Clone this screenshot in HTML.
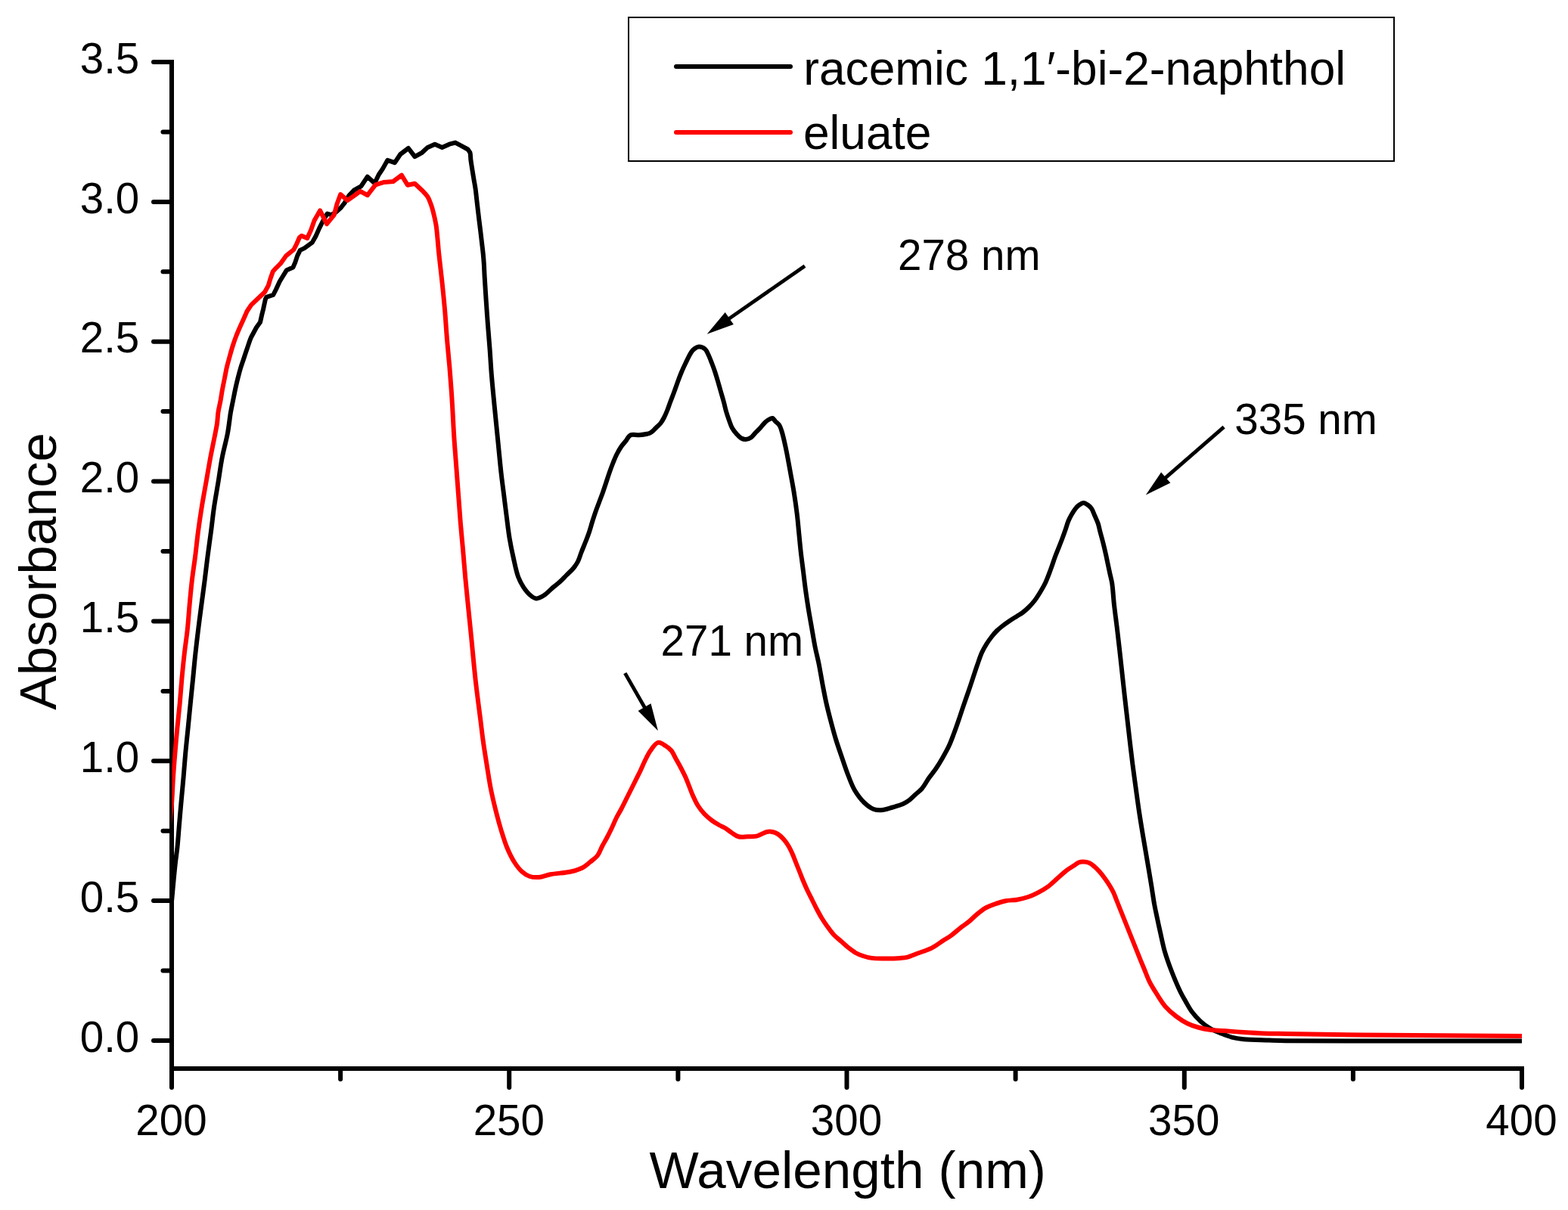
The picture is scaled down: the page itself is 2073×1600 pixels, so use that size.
<!DOCTYPE html>
<html><head><meta charset="utf-8"><title>UV-Vis absorbance spectra</title>
<style>
html,body{margin:0;padding:0;background:#fff;}
body{width:2073px;height:1600px;overflow:hidden;}
svg{display:block;}
text{font-family:"Liberation Sans",Arial,sans-serif;fill:#000;}
</style></head><body>
<svg width="2073" height="1600" viewBox="0 0 2073 1600">
<rect width="2073" height="1600" fill="#fff"/>
<defs><clipPath id="pc"><rect x="227.4" y="0" width="1785.6" height="1600"/></clipPath></defs>
<line x1="227" y1="79" x2="227" y2="1416" stroke="#000" stroke-width="6"/>
<line x1="224" y1="1413" x2="2015" y2="1413" stroke="#000" stroke-width="6"/>
<line x1="203" y1="82.0" x2="227" y2="82.0" stroke="#000" stroke-width="6" stroke-linecap="round"/>
<line x1="203" y1="266.9" x2="227" y2="266.9" stroke="#000" stroke-width="6" stroke-linecap="round"/>
<line x1="203" y1="451.7" x2="227" y2="451.7" stroke="#000" stroke-width="6" stroke-linecap="round"/>
<line x1="203" y1="636.6" x2="227" y2="636.6" stroke="#000" stroke-width="6" stroke-linecap="round"/>
<line x1="203" y1="821.4" x2="227" y2="821.4" stroke="#000" stroke-width="6" stroke-linecap="round"/>
<line x1="203" y1="1006.3" x2="227" y2="1006.3" stroke="#000" stroke-width="6" stroke-linecap="round"/>
<line x1="203" y1="1191.1" x2="227" y2="1191.1" stroke="#000" stroke-width="6" stroke-linecap="round"/>
<line x1="203" y1="1376.0" x2="227" y2="1376.0" stroke="#000" stroke-width="6" stroke-linecap="round"/>
<line x1="215.5" y1="174.4" x2="227" y2="174.4" stroke="#000" stroke-width="6" stroke-linecap="round"/>
<line x1="215.5" y1="359.3" x2="227" y2="359.3" stroke="#000" stroke-width="6" stroke-linecap="round"/>
<line x1="215.5" y1="544.1" x2="227" y2="544.1" stroke="#000" stroke-width="6" stroke-linecap="round"/>
<line x1="215.5" y1="729.0" x2="227" y2="729.0" stroke="#000" stroke-width="6" stroke-linecap="round"/>
<line x1="215.5" y1="913.9" x2="227" y2="913.9" stroke="#000" stroke-width="6" stroke-linecap="round"/>
<line x1="215.5" y1="1098.7" x2="227" y2="1098.7" stroke="#000" stroke-width="6" stroke-linecap="round"/>
<line x1="215.5" y1="1283.6" x2="227" y2="1283.6" stroke="#000" stroke-width="6" stroke-linecap="round"/>
<line x1="227.0" y1="1413" x2="227.0" y2="1438" stroke="#000" stroke-width="6" stroke-linecap="round"/>
<line x1="673.2" y1="1413" x2="673.2" y2="1438" stroke="#000" stroke-width="6" stroke-linecap="round"/>
<line x1="1119.5" y1="1413" x2="1119.5" y2="1438" stroke="#000" stroke-width="6" stroke-linecap="round"/>
<line x1="1565.8" y1="1413" x2="1565.8" y2="1438" stroke="#000" stroke-width="6" stroke-linecap="round"/>
<line x1="2012.0" y1="1413" x2="2012.0" y2="1438" stroke="#000" stroke-width="6" stroke-linecap="round"/>
<line x1="450.1" y1="1413" x2="450.1" y2="1427" stroke="#000" stroke-width="6" stroke-linecap="round"/>
<line x1="896.4" y1="1413" x2="896.4" y2="1427" stroke="#000" stroke-width="6" stroke-linecap="round"/>
<line x1="1342.6" y1="1413" x2="1342.6" y2="1427" stroke="#000" stroke-width="6" stroke-linecap="round"/>
<line x1="1788.9" y1="1413" x2="1788.9" y2="1427" stroke="#000" stroke-width="6" stroke-linecap="round"/>
<path clip-path="url(#pc)" d="M224.00,1220.00 C225.00,1210.67 226.13,1200.77 227.00,1192.00 C227.77,1184.23 228.25,1177.90 229.00,1170.00 C229.88,1160.77 230.99,1148.98 232.00,1140.00 C232.83,1132.65 233.73,1127.35 234.50,1120.00 C235.44,1111.02 236.15,1100.00 237.00,1090.00 C237.85,1080.00 238.69,1070.19 239.60,1060.00 C240.55,1049.41 241.65,1038.42 242.60,1027.60 C243.55,1016.75 244.30,1005.85 245.30,995.00 C246.30,984.18 247.52,973.42 248.60,962.60 C249.68,951.75 250.72,940.85 251.80,930.00 C252.88,919.18 254.02,908.42 255.10,897.60 C256.18,886.75 257.13,875.85 258.30,865.00 C259.47,854.15 260.77,843.33 262.10,832.50 C263.43,821.66 264.88,810.82 266.30,800.00 C267.72,789.19 269.22,778.42 270.60,767.60 C271.99,756.75 273.20,745.85 274.60,735.00 C276.00,724.18 277.58,713.42 279.00,702.60 C280.42,691.75 281.52,680.83 283.10,670.00 C284.68,659.17 286.74,648.42 288.50,637.60 C290.27,626.75 291.62,615.83 293.70,605.00 C295.79,594.13 299.08,582.92 301.00,572.50 C302.76,562.99 303.66,552.77 305.00,545.00 C306.00,539.23 307.00,535.00 308.00,530.00 C309.00,525.00 309.92,519.99 311.00,515.00 C312.08,509.99 313.29,504.81 314.50,500.00 C315.63,495.50 316.73,491.23 318.00,487.00 C319.23,482.90 320.59,479.22 322.00,475.00 C323.57,470.28 325.31,464.90 327.00,460.00 C328.64,455.24 330.00,450.51 332.00,446.00 L339.00,433.00 L344.00,426.00 L346.50,415.00 L348.10,408.70 L350.90,395.60 L352.30,392.80 L361.20,390.00 L365.00,382.50 L369.70,372.20 L374.30,364.70 L379.00,357.20 L387.50,353.40 L390.30,346.90 L393.10,338.40 L396.80,330.90 L402.50,328.10 L412.80,320.60 L417.50,312.20 L422.10,301.90 L426.80,292.50 L432.70,282.50 L438.00,284.10 L444.40,280.40 L450.80,274.50 L456.10,267.60 L461.40,258.60 L467.80,251.70 L477.30,246.40 L485.80,233.70 L495.30,242.20 L500.70,231.00 L506.00,223.10 L512.30,211.90 L521.90,215.10 L529.30,204.00 L539.90,196.00 L548.40,207.10 L558.00,201.80 L565.40,194.90 L574.90,190.70 L584.50,194.90 L594.00,190.70 L602.00,188.60 L610.00,192.80 L618.50,197.50 L621.30,201.40 C622.25,203.89 621.95,208.04 622.40,211.50 C622.88,215.17 623.48,218.87 624.10,222.80 C624.77,227.10 625.55,231.80 626.30,236.30 C627.05,240.80 627.94,245.20 628.60,249.80 C629.28,254.59 629.73,259.61 630.30,264.50 C630.87,269.38 631.44,274.33 632.00,279.10 C632.54,283.69 633.05,288.10 633.60,292.60 C634.15,297.10 634.74,301.50 635.30,306.10 C635.88,310.89 636.43,315.91 637.00,320.80 C637.57,325.68 638.23,330.62 638.70,335.40 C639.15,339.98 639.49,344.20 639.80,348.90 C640.14,354.03 640.24,358.70 640.60,365.00 C641.11,373.97 641.97,386.75 642.70,397.60 C643.43,408.42 644.18,419.19 645.00,430.00 C645.82,440.85 646.80,451.75 647.60,462.60 C648.40,473.41 648.94,484.19 649.80,495.00 C650.67,505.86 651.86,517.75 652.80,527.60 C653.58,535.77 654.17,541.58 655.00,550.00 C656.08,560.90 657.50,575.00 658.75,587.50 C660.00,600.00 661.17,613.20 662.50,625.00 C663.69,635.57 665.00,645.00 666.25,655.00 C667.50,665.00 668.72,675.22 670.00,685.00 C671.22,694.37 672.25,703.57 673.75,712.50 C675.19,721.05 676.88,729.19 678.75,737.50 C680.63,745.86 682.37,755.48 685.00,762.50 C687.06,768.00 689.35,772.36 692.20,776.60 C694.92,780.65 698.41,784.96 701.60,787.50 C704.03,789.44 706.33,791.26 709.00,791.40 C711.99,791.56 715.47,789.51 718.75,787.50 C722.87,784.98 727.43,779.82 731.25,776.60 C734.40,773.95 737.13,772.09 740.00,769.50 C743.05,766.75 746.00,763.50 749.00,760.50 C752.00,757.50 755.43,754.63 758.00,751.50 C760.37,748.61 762.30,745.82 764.00,742.50 C765.85,738.88 766.87,734.71 768.50,730.50 C770.33,725.77 772.67,720.23 774.50,715.50 C776.13,711.29 777.57,707.75 779.00,703.50 C780.58,698.80 781.96,693.36 783.50,688.50 C784.97,683.87 786.46,679.35 788.00,675.00 C789.46,670.87 791.00,667.00 792.50,663.00 C794.00,659.00 795.54,655.13 797.00,651.00 C798.54,646.65 800.00,642.00 801.50,637.50 C803.00,633.00 804.46,628.35 806.00,624.00 C807.46,619.87 808.95,615.85 810.50,612.00 C811.96,608.37 813.28,604.95 815.00,601.50 C816.77,597.95 818.87,594.13 821.00,591.00 C822.90,588.21 824.93,586.05 827.00,583.50 C829.18,580.81 830.81,576.64 833.75,575.25 C836.77,573.82 841.32,575.51 845.00,575.25 C848.57,575.00 852.75,574.40 855.50,573.75 C857.34,573.32 858.41,573.17 860.00,572.25 C862.31,570.90 865.17,567.71 867.50,565.50 C869.64,563.47 871.76,561.73 873.50,559.50 C875.27,557.24 876.62,554.66 878.00,552.00 C879.47,549.18 880.72,546.17 882.00,543.00 C883.40,539.54 884.57,535.81 886.00,532.00 C887.56,527.84 889.36,523.42 891.00,519.00 C892.69,514.43 894.31,509.57 896.00,505.00 C897.64,500.58 899.22,496.22 901.00,492.00 C902.73,487.89 904.63,483.90 906.50,480.00 C908.30,476.24 910.22,472.07 912.00,469.00 C913.36,466.65 914.18,464.68 916.00,463.00 C918.05,461.10 921.28,458.71 924.00,458.50 C926.62,458.30 929.98,459.84 932.00,461.50 C933.91,463.07 934.69,465.44 936.00,468.00 C937.71,471.34 939.47,476.07 941.00,480.00 C942.45,483.73 943.71,487.16 945.00,491.00 C946.39,495.14 947.69,499.58 949.00,504.00 C950.36,508.57 951.67,513.33 953.00,518.00 C954.33,522.67 955.80,527.50 957.00,532.00 C958.11,536.14 958.84,540.02 960.00,544.00 C961.17,548.02 962.61,552.20 964.00,556.00 C965.28,559.50 966.29,562.95 968.00,566.00 C969.65,568.93 971.89,571.67 974.00,574.00 C975.91,576.10 977.84,578.34 980.00,579.50 C981.88,580.51 983.94,581.10 986.00,581.00 C988.26,580.89 990.91,579.88 993.00,578.50 C995.28,576.99 996.98,574.10 999.00,572.00 C1000.98,569.94 1002.96,568.18 1005.00,566.00 C1007.28,563.56 1009.61,560.09 1012.00,558.00 C1013.96,556.28 1016.21,554.83 1018.00,554.00 C1019.27,553.41 1020.42,552.68 1021.50,553.00 C1022.80,553.38 1023.68,555.58 1025.00,557.00 C1026.60,558.71 1029.05,560.23 1030.50,562.50 C1032.16,565.09 1032.96,568.62 1034.00,572.00 C1035.15,575.74 1036.03,579.84 1037.00,584.00 C1038.04,588.48 1038.91,592.57 1040.00,598.00 C1041.50,605.53 1043.39,616.17 1045.00,625.00 C1046.55,633.49 1048.10,641.27 1049.50,650.00 C1051.03,659.53 1052.60,670.44 1053.75,680.00 C1054.80,688.70 1055.42,696.67 1056.25,705.00 C1057.08,713.33 1057.81,721.67 1058.75,730.00 C1059.69,738.34 1060.86,746.67 1061.90,755.00 C1062.94,763.33 1063.86,771.67 1065.00,780.00 C1066.14,788.34 1067.40,796.67 1068.75,805.00 C1070.10,813.34 1071.64,821.67 1073.10,830.00 C1074.56,838.33 1075.89,846.90 1077.50,855.00 C1079.04,862.72 1080.91,869.61 1082.50,877.50 C1084.26,886.19 1085.79,896.06 1087.50,905.00 C1089.13,913.54 1090.63,921.69 1092.50,930.00 C1094.38,938.36 1096.61,946.90 1098.75,955.00 C1100.78,962.71 1102.72,970.03 1105.00,977.50 C1107.30,985.03 1109.87,992.31 1112.50,1000.00 C1115.28,1008.12 1118.18,1017.19 1121.25,1025.00 C1124.04,1032.09 1126.38,1038.88 1130.00,1045.00 C1133.51,1050.93 1137.98,1056.93 1142.50,1061.25 C1146.40,1064.98 1150.87,1068.41 1155.00,1070.00 C1158.36,1071.29 1161.35,1071.47 1165.00,1071.25 C1169.52,1070.98 1175.12,1068.90 1180.00,1067.50 C1184.75,1066.14 1189.89,1064.85 1193.90,1063.00 C1197.27,1061.45 1199.93,1059.70 1202.70,1057.60 C1205.57,1055.42 1208.10,1052.59 1210.80,1050.10 C1213.50,1047.62 1216.29,1045.75 1218.90,1042.70 C1222.11,1038.95 1224.95,1033.30 1228.10,1028.80 C1231.18,1024.40 1234.61,1020.41 1237.60,1016.00 C1240.61,1011.55 1243.34,1007.01 1246.10,1002.20 C1249.01,997.13 1252.10,991.68 1254.60,986.30 C1257.05,981.04 1258.92,975.81 1261.00,970.30 C1263.19,964.50 1265.30,958.41 1267.40,952.30 C1269.57,946.01 1271.65,939.39 1273.80,933.10 C1275.89,927.00 1278.01,921.20 1280.10,915.10 C1282.25,908.81 1284.47,902.00 1286.50,895.90 C1288.35,890.35 1289.92,885.38 1291.80,880.00 C1293.75,874.41 1295.75,867.98 1298.00,863.00 C1299.87,858.86 1301.82,855.52 1304.00,852.00 C1306.15,848.52 1308.58,845.09 1311.00,842.00 C1313.26,839.12 1315.58,836.40 1318.00,834.00 C1320.26,831.77 1322.48,829.99 1325.00,828.00 C1327.77,825.82 1330.82,823.66 1334.00,821.50 C1337.45,819.16 1341.75,816.58 1345.00,814.50 C1347.60,812.84 1349.65,811.76 1352.00,810.00 C1354.65,808.01 1357.41,805.57 1360.00,803.00 C1362.76,800.27 1365.62,797.08 1368.00,794.00 C1370.26,791.08 1371.94,788.36 1374.00,785.00 C1376.49,780.95 1379.38,776.23 1381.75,771.30 C1384.34,765.90 1386.55,759.66 1388.75,753.80 C1390.93,747.99 1392.88,741.69 1394.90,736.30 C1396.66,731.60 1398.45,727.42 1400.10,723.20 C1401.64,719.27 1403.06,715.68 1404.50,711.80 C1405.99,707.79 1407.54,703.45 1408.90,699.50 C1410.15,695.87 1411.03,692.29 1412.40,689.00 C1413.69,685.91 1415.19,683.09 1416.80,680.30 C1418.39,677.56 1420.23,674.58 1422.00,672.40 C1423.44,670.63 1424.70,669.22 1426.40,668.00 C1428.18,666.73 1430.47,665.00 1432.50,665.00 C1434.53,665.00 1436.82,666.73 1438.60,668.00 C1440.30,669.22 1441.68,670.50 1443.00,672.40 C1444.72,674.87 1445.96,678.72 1447.40,682.00 C1448.90,685.41 1450.63,688.95 1451.80,692.50 C1452.94,695.96 1453.51,699.58 1454.40,703.00 C1455.25,706.28 1456.14,709.32 1457.00,712.60 C1457.90,716.04 1458.83,719.61 1459.70,723.20 C1460.60,726.90 1461.45,730.65 1462.30,734.50 C1463.18,738.51 1464.03,742.71 1464.90,746.80 C1465.76,750.88 1466.62,754.93 1467.50,759.00 C1468.39,763.09 1469.41,766.32 1470.20,771.30 C1471.39,778.84 1471.92,790.33 1473.00,800.00 C1474.10,809.90 1475.55,820.00 1476.75,830.00 C1477.95,840.00 1479.07,850.00 1480.20,860.00 C1481.32,870.00 1482.40,880.00 1483.50,890.00 C1484.60,900.00 1485.68,910.00 1486.80,920.00 C1487.93,930.00 1489.10,940.00 1490.25,950.00 C1491.40,960.00 1492.53,970.00 1493.70,980.00 C1494.88,990.00 1495.98,999.69 1497.30,1010.00 C1498.70,1020.98 1500.37,1032.93 1501.90,1044.00 C1503.36,1054.57 1504.69,1064.67 1506.25,1075.00 C1507.81,1085.34 1509.53,1095.63 1511.25,1106.00 C1512.98,1116.46 1514.82,1127.00 1516.60,1137.50 C1518.37,1148.00 1520.27,1159.00 1521.90,1169.00 C1523.38,1178.08 1524.79,1188.14 1526.00,1195.00 C1526.80,1199.52 1527.27,1201.69 1528.20,1206.20 C1529.63,1213.13 1531.93,1223.75 1533.90,1232.50 C1535.87,1241.25 1537.48,1250.03 1540.00,1258.70 C1542.56,1267.53 1545.82,1276.30 1549.20,1285.00 C1552.62,1293.80 1556.92,1304.02 1560.40,1311.20 C1562.93,1316.42 1565.10,1320.04 1567.60,1324.40 C1570.13,1328.80 1572.37,1333.28 1575.50,1337.50 C1578.86,1342.03 1583.12,1346.80 1587.30,1350.60 C1591.21,1354.16 1595.26,1357.18 1599.70,1359.80 C1604.21,1362.46 1609.33,1364.42 1614.20,1366.40 C1618.97,1368.34 1623.63,1370.30 1628.60,1371.60 C1633.69,1372.92 1638.16,1373.57 1644.40,1374.20 C1653.34,1375.11 1667.26,1375.15 1677.20,1375.50 C1685.49,1375.79 1689.71,1376.02 1700.00,1376.20 C1721.54,1376.57 1760.48,1376.53 1800.00,1376.60 C1857.55,1376.70 1941.33,1376.53 2012.00,1376.50" fill="none" stroke="#000" stroke-width="6.0" stroke-linejoin="round"/>
<path clip-path="url(#pc)" d="M221.00,1120.00 C222.33,1107.33 223.88,1092.95 225.00,1082.00 C225.85,1073.67 226.57,1068.05 227.20,1060.00 C227.96,1050.25 228.29,1038.41 229.00,1027.60 C229.72,1016.75 230.60,1005.85 231.50,995.00 C232.40,984.18 233.37,973.41 234.40,962.60 C235.43,951.75 236.70,940.85 237.70,930.00 C238.70,919.19 239.40,908.41 240.40,897.60 C241.40,886.75 242.47,875.85 243.70,865.00 C244.93,854.15 246.65,843.34 247.80,832.50 C248.95,821.68 249.60,810.82 250.60,800.00 C251.60,789.19 252.54,778.41 253.80,767.60 C255.07,756.74 256.83,745.86 258.20,735.00 C259.56,724.19 260.57,713.41 262.00,702.60 C263.44,691.74 265.05,680.84 266.80,670.00 C268.55,659.17 270.60,648.42 272.50,637.60 C274.40,626.75 276.17,615.85 278.20,605.00 C280.23,594.15 283.11,580.80 284.70,572.50 C285.69,567.36 286.38,564.37 287.00,560.00 C287.67,555.24 287.75,549.98 288.50,545.00 C289.25,539.98 290.58,535.01 291.50,530.00 C292.42,525.01 293.08,519.99 294.00,515.00 C294.92,509.99 296.00,505.00 297.00,500.00 C298.00,495.00 298.87,489.80 300.00,485.00 C301.06,480.49 302.28,476.41 303.50,472.00 C304.77,467.42 306.06,462.56 307.50,458.00 C308.90,453.57 310.39,449.22 312.00,445.00 C313.56,440.90 315.30,436.90 317.00,433.00 C318.64,429.24 320.38,425.63 322.00,422.00 L326.60,411.50 L332.20,403.10 L350.00,386.20 L354.70,377.80 L357.50,368.40 L360.80,359.00 L365.00,354.30 L371.50,347.80 L378.10,338.40 L388.40,330.00 L392.20,322.50 L395.90,314.00 L398.70,311.70 L406.20,315.00 L410.90,304.70 L415.60,291.60 L423.10,278.40 L432.00,296.20 L441.80,284.10 L445.50,269.80 L450.20,257.00 L459.30,265.00 L467.80,259.10 L476.20,252.80 L485.80,258.10 L496.40,244.30 L507.00,241.10 L519.80,240.00 L530.90,231.60 L538.90,244.80 L548.40,242.70 L558.00,251.70 C560.70,254.51 563.45,257.12 565.40,260.20 C567.28,263.17 568.38,266.48 569.60,269.80 C570.86,273.21 571.77,276.42 572.80,280.40 C574.09,285.40 575.56,291.66 576.50,297.50 C577.47,303.52 577.89,309.79 578.50,316.00 C579.12,322.29 579.45,327.61 580.20,335.00 C581.25,345.38 583.08,359.92 584.40,372.40 C585.72,384.89 587.02,397.39 588.10,409.90 C589.18,422.39 589.87,434.91 590.90,447.40 C591.93,459.88 593.27,472.52 594.30,484.80 C595.30,496.71 596.27,509.27 597.00,520.00 C597.62,529.04 597.99,536.12 598.50,545.00 C599.08,555.12 599.57,566.28 600.30,577.50 C601.08,589.56 602.17,602.51 603.10,615.00 C604.03,627.48 604.97,639.92 605.90,652.40 C606.83,664.89 607.67,677.40 608.70,689.90 C609.73,702.40 611.00,714.91 612.10,727.40 C613.20,739.87 614.15,752.33 615.30,764.80 C616.45,777.30 617.75,789.80 619.00,802.30 C620.25,814.80 621.40,825.83 622.80,839.80 C624.57,857.50 626.61,880.88 628.75,900.00 C630.70,917.45 633.18,935.45 635.00,950.00 C636.41,961.27 637.33,969.81 638.75,980.00 C640.23,990.63 642.05,1001.89 643.75,1012.50 C645.39,1022.71 646.83,1032.74 648.75,1042.50 C650.60,1051.89 652.72,1060.86 655.00,1070.00 C657.30,1079.19 659.87,1088.83 662.50,1097.50 C664.90,1105.41 667.03,1112.82 670.00,1120.00 C672.89,1126.97 676.34,1134.28 680.00,1140.00 C683.10,1144.84 686.37,1149.27 690.00,1152.50 C693.12,1155.27 696.32,1157.49 700.00,1158.75 C703.80,1160.05 708.17,1160.32 712.50,1160.00 C717.30,1159.65 721.71,1157.36 727.50,1156.25 C735.25,1154.76 747.28,1154.30 755.00,1152.50 C760.83,1151.14 765.66,1149.77 770.00,1147.50 C773.86,1145.48 776.72,1142.66 780.00,1140.00 C783.39,1137.26 787.31,1134.73 790.00,1131.25 C792.76,1127.68 794.12,1122.78 796.25,1118.75 C798.29,1114.88 800.46,1111.37 802.50,1107.50 C804.63,1103.47 806.71,1099.29 808.75,1095.00 C810.88,1090.54 812.83,1085.56 815.00,1081.25 C817.01,1077.27 819.21,1073.87 821.25,1070.00 C823.38,1065.97 825.42,1061.67 827.50,1057.50 C829.58,1053.33 831.67,1049.17 833.75,1045.00 C835.83,1040.83 837.92,1036.67 840.00,1032.50 C842.08,1028.33 844.21,1024.29 846.25,1020.00 C848.38,1015.54 850.23,1010.79 852.50,1006.25 C854.81,1001.62 857.01,996.61 860.00,992.50 C862.88,988.53 866.39,982.64 870.00,981.90 C873.12,981.26 877.02,984.41 880.00,986.25 C882.82,987.99 885.32,989.87 887.50,992.50 C890.00,995.52 891.67,1000.00 893.75,1003.75 C895.83,1007.50 897.96,1011.13 900.00,1015.00 C902.13,1019.03 904.36,1023.29 906.25,1027.50 C908.10,1031.63 909.58,1035.83 911.25,1040.00 C912.92,1044.17 914.40,1048.37 916.25,1052.50 C918.14,1056.71 920.02,1061.06 922.50,1065.00 C925.01,1068.98 928.06,1072.87 931.25,1076.25 C934.33,1079.51 937.81,1082.45 941.25,1085.00 C944.49,1087.41 948.12,1089.49 951.25,1091.25 C953.89,1092.73 956.21,1093.47 958.75,1095.00 C961.62,1096.73 964.53,1099.35 967.50,1101.25 C970.37,1103.09 972.94,1105.37 976.25,1106.25 C979.93,1107.23 984.69,1106.37 988.75,1106.25 C992.60,1106.14 997.04,1106.22 1000.00,1105.60 C1002.04,1105.17 1003.11,1104.50 1005.00,1103.75 C1007.52,1102.74 1010.89,1100.59 1013.75,1100.00 C1016.29,1099.48 1018.80,1099.51 1021.25,1100.00 C1023.80,1100.51 1026.38,1101.59 1028.75,1103.10 C1031.41,1104.80 1033.98,1107.43 1036.25,1110.00 C1038.58,1112.64 1040.64,1115.66 1042.50,1118.75 C1044.40,1121.90 1045.90,1125.20 1047.50,1128.75 C1049.25,1132.65 1050.83,1137.08 1052.50,1141.25 C1054.17,1145.42 1055.83,1149.58 1057.50,1153.75 C1059.17,1157.92 1060.79,1162.21 1062.50,1166.25 C1064.13,1170.11 1065.69,1173.67 1067.50,1177.50 C1069.42,1181.58 1071.67,1185.83 1073.75,1190.00 C1075.83,1194.17 1077.87,1198.47 1080.00,1202.50 C1082.04,1206.37 1083.99,1210.05 1086.25,1213.75 C1088.57,1217.55 1091.08,1221.30 1093.75,1225.00 C1096.49,1228.80 1099.31,1232.87 1102.50,1236.25 C1105.58,1239.51 1109.17,1242.08 1112.50,1245.00 C1115.83,1247.92 1119.21,1251.15 1122.50,1253.75 C1125.46,1256.09 1128.24,1258.31 1131.25,1260.00 C1134.08,1261.59 1136.78,1262.66 1140.00,1263.75 C1143.75,1265.02 1147.87,1266.25 1152.50,1266.90 C1158.08,1267.68 1165.00,1267.50 1171.25,1267.50 C1177.50,1267.50 1184.73,1267.33 1190.00,1266.90 C1193.86,1266.59 1196.51,1266.47 1200.00,1265.60 C1204.06,1264.59 1208.10,1262.59 1212.80,1260.80 C1218.60,1258.59 1226.29,1256.31 1232.20,1253.30 C1237.68,1250.51 1242.65,1246.55 1247.20,1243.60 C1251.01,1241.13 1254.16,1239.38 1257.70,1236.80 C1261.62,1233.95 1265.59,1230.23 1269.60,1227.10 C1273.56,1224.00 1277.95,1221.12 1281.60,1218.10 C1284.89,1215.38 1287.32,1212.62 1290.60,1209.90 C1294.23,1206.89 1298.38,1203.31 1302.50,1200.90 C1306.36,1198.65 1310.23,1197.26 1314.50,1195.70 C1319.17,1193.99 1324.46,1192.20 1329.50,1191.20 C1334.43,1190.22 1339.46,1190.55 1344.40,1189.70 C1349.42,1188.83 1354.75,1187.58 1359.40,1186.00 C1363.66,1184.55 1367.18,1182.93 1371.30,1180.80 C1376.09,1178.33 1381.73,1175.15 1386.30,1171.80 C1390.65,1168.61 1394.22,1164.80 1398.20,1161.30 C1402.19,1157.80 1406.30,1153.74 1410.20,1150.80 C1413.54,1148.29 1417.14,1146.37 1420.00,1144.50 C1422.25,1143.03 1423.91,1141.33 1426.00,1140.50 C1427.92,1139.74 1429.86,1139.48 1432.00,1139.50 C1434.48,1139.53 1437.53,1139.95 1440.00,1141.00 C1442.54,1142.08 1444.74,1144.09 1447.00,1146.00 C1449.42,1148.05 1451.74,1150.44 1454.00,1153.00 C1456.42,1155.74 1458.81,1158.96 1461.00,1162.00 C1463.13,1164.96 1465.15,1167.96 1467.00,1171.00 C1468.81,1173.96 1470.51,1176.87 1472.00,1180.00 C1473.52,1183.20 1474.67,1186.67 1476.00,1190.00 C1477.33,1193.33 1478.67,1196.67 1480.00,1200.00 C1481.33,1203.33 1482.67,1206.67 1484.00,1210.00 C1485.33,1213.33 1486.67,1216.67 1488.00,1220.00 C1489.33,1223.33 1490.67,1226.67 1492.00,1230.00 C1493.33,1233.33 1494.67,1236.67 1496.00,1240.00 C1497.33,1243.33 1498.67,1246.67 1500.00,1250.00 C1501.33,1253.33 1502.67,1256.67 1504.00,1260.00 C1505.33,1263.33 1506.58,1266.52 1508.00,1270.00 C1509.56,1273.82 1511.21,1277.71 1513.00,1282.00 C1515.07,1286.97 1516.91,1292.57 1519.70,1298.10 C1522.90,1304.45 1527.71,1311.96 1531.50,1317.80 C1534.67,1322.67 1537.02,1326.73 1540.70,1330.90 C1544.76,1335.50 1550.12,1340.20 1555.10,1344.00 C1559.78,1347.57 1564.64,1350.75 1569.60,1353.20 C1574.29,1355.52 1579.04,1357.07 1584.00,1358.50 C1589.07,1359.96 1594.23,1361.04 1599.70,1361.80 C1605.56,1362.62 1611.42,1362.62 1618.10,1363.10 C1626.09,1363.67 1635.64,1364.45 1644.40,1365.00 C1653.14,1365.55 1661.61,1366.07 1670.60,1366.40 C1680.11,1366.75 1687.29,1366.77 1700.00,1367.00 C1723.44,1367.43 1760.48,1368.15 1800.00,1368.60 C1857.54,1369.25 1941.33,1369.53 2012.00,1370.00" fill="none" stroke="#f00" stroke-width="6.0" stroke-linejoin="round"/>
<text x="184.3" y="1390.7" font-size="56.5" text-anchor="end">0.0</text>
<text x="184.3" y="1205.8" font-size="56.5" text-anchor="end">0.5</text>
<text x="184.3" y="1021.0" font-size="56.5" text-anchor="end">1.0</text>
<text x="184.3" y="836.1" font-size="56.5" text-anchor="end">1.5</text>
<text x="184.3" y="651.3" font-size="56.5" text-anchor="end">2.0</text>
<text x="184.3" y="466.4" font-size="56.5" text-anchor="end">2.5</text>
<text x="184.3" y="281.6" font-size="56.5" text-anchor="end">3.0</text>
<text x="184.3" y="96.7" font-size="56.5" text-anchor="end">3.5</text>
<text x="226.5" y="1501.4" font-size="56.5" text-anchor="middle">200</text>
<text x="672.8" y="1501.4" font-size="56.5" text-anchor="middle">250</text>
<text x="1119.0" y="1501.4" font-size="56.5" text-anchor="middle">300</text>
<text x="1565.2" y="1501.4" font-size="56.5" text-anchor="middle">350</text>
<text x="2011.5" y="1501.4" font-size="56.5" text-anchor="middle">400</text>
<text x="1187.0" y="357.1" font-size="56.5">278 nm</text>
<text x="1632.3" y="574.1" font-size="56.5">335 nm</text>
<text x="873.6" y="866.9" font-size="56.5">271 nm</text>
<line x1="1064.0" y1="351.7" x2="961.0" y2="423.4" stroke="#000" stroke-width="4.8" stroke-linecap="butt"/>
<polygon points="934.7,441.7 958.7,413.1 969.8,429.1" fill="#000"/>
<line x1="1618.1" y1="564.6" x2="1538.2" y2="634.1" stroke="#000" stroke-width="4.8" stroke-linecap="butt"/>
<polygon points="1514.8,654.5 1535.1,624.5 1547.3,638.5" fill="#000"/>
<line x1="826.3" y1="890.1" x2="854.0" y2="938.5" stroke="#000" stroke-width="4.8" stroke-linecap="butt"/>
<polygon points="869.9,966.3 843.6,939.9 860.5,930.2" fill="#000"/>
<rect x="831" y="23" width="1012" height="190" fill="none" stroke="#000" stroke-width="2"/>
<line x1="894" y1="88" x2="1045" y2="88" stroke="#000" stroke-width="6" stroke-linecap="round"/>
<line x1="894" y1="175" x2="1045" y2="175" stroke="#f00" stroke-width="6" stroke-linecap="round"/>
<text x="1062.3" y="112.4" font-size="62.2">racemic 1,1′-bi-2-naphthol</text>
<text x="1061.9" y="197.3" font-size="62.2">eluate</text>
<text x="858.6" y="1570.8" font-size="69.2">Wavelength (nm)</text>
<text transform="translate(73.75,938.9) rotate(-90)" x="0" y="0" font-size="68.7">Absorbance</text>
</svg>
</body></html>
